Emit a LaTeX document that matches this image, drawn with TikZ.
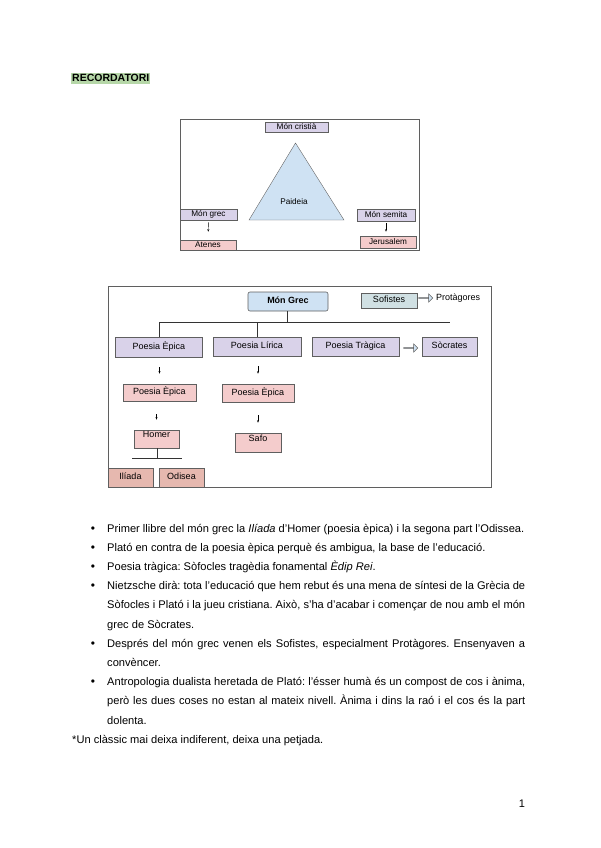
\documentclass[tikz,border=0pt]{standalone}
\usepackage{fontspec}
\setmainfont{Liberation Sans}
\usepackage{xcolor}
\usetikzlibrary{positioning,arrows.meta,shapes.arrows}
\definecolor{softlila}{RGB}{217,210,233}
\definecolor{softblue}{RGB}{207,226,243}
\definecolor{softpink}{RGB}{244,204,204}
\definecolor{deeppink}{RGB}{230,184,175}
\definecolor{softteal}{RGB}{208,224,227}
\definecolor{softmark}{RGB}{182,215,168}
\definecolor{framegrey}{RGB}{95,95,95}
\frenchspacing
\tikzset{
    smallbox/.style={
        draw=framegrey,
        line width=0.6pt,
        inner sep=0pt,
        text height=6pt,
        text depth=2pt,
        font=\fontsize{8.2}{10}\selectfont
    },
    lilabox/.style={
        smallbox,
        fill=softlila
    },
    pinkbox/.style={
        smallbox,
        fill=softpink
    },
    deepbox/.style={
        smallbox,
        fill=deeppink
    },
    topbox/.style={
        smallbox,
        text height=6.5pt,
        text depth=9pt
    },
    bigtext/.style={font=\fontsize{9}{11}\selectfont},
    hollowarrow/.style={
        single arrow,
        draw=framegrey,
        fill=softblue,
        line width=0.5pt,
        minimum height=14pt,
        minimum width=8pt,
        single arrow head extend=2pt,
        inner sep=0pt
    },
    tinyarrow/.style={-{Stealth[length=2.5pt,width=2pt]}, line width=0.4pt},
    treeline/.style={line width=0.6pt, draw=black!80},
    frame/.style={line width=1pt, draw=framegrey},
    bodytext/.style={
        inner sep=0pt,
        text width=418pt,
        align=justify,
        font=\fontsize{11.1}{19.2}\selectfont
    }
}

\begin{document}
\begin{tikzpicture}[x=1pt,y=-1pt]
\useasboundingbox (0,0) rectangle (600,848);

\node[fill=softmark, font=\bfseries\fontsize{10.5}{12}\selectfont,
      inner xsep=1pt, inner ysep=1.5pt, anchor=base west] (title) at (71,82) {RECORDATORI};

% Paideia
\draw[frame] (180,120) rectangle (419,250);

\coordinate (apex) at (295.5,143);
\coordinate (baseL) at (249,220);
\coordinate (baseR) at (344,220);
\draw[fill=softblue, draw=black!60, line width=0.4pt] (apex) -- (baseL) -- (baseR) -- cycle;
\node[font=\fontsize{8.2}{10}\selectfont] (paideia) at (294,202) {Paideia};

\node[lilabox, minimum width=63pt, minimum height=10pt] (cristia) at (296.5,127) {Món cristià};

\node[lilabox, minimum width=57pt, minimum height=11pt] (grec) at (208.5,214.5) {Món grec};
\node[pinkbox, minimum width=56pt, minimum height=10pt] (atenes) at (208,245) {Atenes};

\node[lilabox, minimum width=58pt, minimum height=12pt] (semita) at (386,215) {Món semita};
\node[pinkbox, minimum width=56pt, minimum height=12pt] (jerusalem) at (388,242) {Jerusalem};

\draw[tinyarrow, shorten <=2pt, shorten >=8pt] (grec) -- (atenes);
\draw[tinyarrow, shorten <=2pt, shorten >=4pt] (semita) -- (semita |- jerusalem.north);

% Mon grec
\draw[frame] (108,286) rectangle (491,487);

\node[smallbox, fill=softblue, rounded corners=2pt, font=\bfseries\fontsize{9}{11}\selectfont,
      minimum width=80pt, minimum height=19pt] (mongrec) at (288,301.5) {Món Grec};
\node[smallbox, bigtext, fill=softteal,
      minimum width=56pt, minimum height=15pt] (sofistes) at (389,300.5) {Sofistes};
\node[hollowarrow] (arrowsof) at (425.5,298) {};
\node[bigtext, anchor=west, inner sep=0pt] (protagores) at (436,298) {Protàgores};

% Main branches
\node[lilabox, bigtext, minimum width=87pt, minimum height=20pt] (epica) at (159,347) {Poesia Èpica};
\node[lilabox, bigtext, minimum width=88pt, minimum height=19pt] (lirica) at (257,346.5) {Poesia Lírica};
\node[lilabox, bigtext, minimum width=87pt, minimum height=19pt] (tragica) at (355.5,346.5) {Poesia Tràgica};
\node[hollowarrow] (arrowtrag) at (410.5,348) {};
\node[lilabox, bigtext, minimum width=55pt, minimum height=19pt] (socrates) at (449.5,346.5) {Sòcrates};

\coordinate (bar) at (287,322.7);
\coordinate (barend) at (450,322.7);
\draw[treeline] (mongrec.south -| bar) -- (bar);
\draw[treeline] (epica.north |- bar) -- (barend);
\draw[treeline] (epica.north |- bar) -- (epica.north);
\draw[treeline] (lirica.north |- bar) -- (lirica.north);

% Second level
\node[pinkbox, bigtext, minimum width=73pt, minimum height=17pt] (epicab) at (159.5,392.5) {Poesia Èpica};
\node[pinkbox, bigtext, minimum width=72pt, minimum height=18pt] (epicac) at (258,393) {Poesia Èpica};

\draw[tinyarrow, shorten <=10pt, shorten >=10pt] (epica.south -| epicab) -- (epicab);
\draw[tinyarrow, shorten <=10pt, shorten >=10pt] (lirica.south -| epicac) -- (epicac);

\node[pinkbox, topbox, bigtext, minimum width=45pt, minimum height=18pt] (homer) at (156.5,439) {Homer};
\node[pinkbox, topbox, bigtext, minimum width=46pt, minimum height=19pt] (safo) at (258,442.5) {Safo};

\draw[tinyarrow, shorten <=13pt, shorten >=10pt] (epicab.south -| homer) -- (homer);
\draw[tinyarrow, shorten <=13pt, shorten >=10pt] (epicac) -- (epicac |- safo.north);

\node[deepbox, bigtext, minimum width=45pt, minimum height=19pt] (iliada) at (130.5,477.5) {Ilíada};
\node[deepbox, bigtext, minimum width=45pt, minimum height=19pt] (odisea) at (181.5,477.5) {Odisea};

\coordinate (homerbar) at (157.5,458);
\coordinate (homerL) at (132,458);
\coordinate (homerR) at (182,458);
\draw[treeline] (homer.south -| homerbar) -- (homerbar);
\draw[treeline] (homerL) -- (homerR);

% Notes
\foreach \y in {532,551.2,570.4,589.6,647.2,685.6}
  \node[font=\fontsize{12}{12}\selectfont, anchor=base, inner sep=0pt] at (93,\y) {\textbullet};

\node[bodytext, anchor=base west] (note1) at (107,532)
{Primer llibre del món grec la \textit{Ilíada} d'Homer (poesia èpica) i la segona part l'Odissea.};
\node[bodytext, anchor=base west] (note2) at (107,551.2)
{Plató en contra de la poesia èpica perquè és ambigua, la base de l'educació.};
\node[bodytext, anchor=base west] (note3) at (107,570.4)
{Poesia tràgica: Sòfocles tragèdia fonamental \textit{Èdip Rei}.};
\node[bodytext, anchor=base west] (note4) at (107,589.6)
{Nietzsche dirà: tota l'educació que hem rebut és una mena de síntesi de la Grècia de\linebreak
Sòfocles i Plató i la jueu cristiana. Això, s'ha d'acabar i començar de nou amb el món\linebreak
grec de Sòcrates.};
\node[bodytext, anchor=base west] (note5) at (107,647.2)
{Després del món grec venen els Sofistes, especialment Protàgores. Ensenyaven a\linebreak
convèncer.};
\node[bodytext, anchor=base west] (note6) at (107,685.6)
{Antropologia dualista heretada de Plató: l'ésser humà és un compost de cos i ànima,\linebreak
però les dues coses no estan al mateix nivell. Ànima i dins la raó i el cos és la part\linebreak
dolenta.};
\node[font=\fontsize{11.1}{12}\selectfont, anchor=base west, inner sep=0pt] (note7) at (72,743.6)
{*Un clàssic mai deixa indiferent, deixa una petjada.};

\node[font=\fontsize{11}{12}\selectfont, anchor=base, inner sep=0pt] (page) at (522,807) {1};

\end{tikzpicture}
\end{document}
